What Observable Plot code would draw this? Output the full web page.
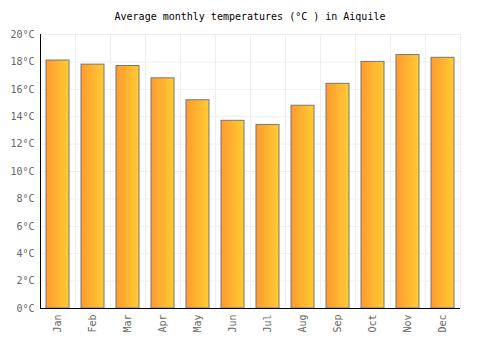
<!DOCTYPE html>
<html>
<head>
<meta charset="utf-8">
<script src="https://cdn.jsdelivr.net/npm/d3@7"></script>
<script src="https://cdn.jsdelivr.net/npm/@observablehq/plot@0.6"></script>
<style>
  body { margin: 0; background: #fff; }
  #title { height: 26px; box-sizing: border-box; padding-top: 11px; font: 10px "DejaVu Sans Mono", monospace; text-align: center; color: #000; line-height: 12px; }
</style>
</head>
<body>
<div id="title">Average monthly temperatures (°C ) in Aiquile</div>
<div id="chart"></div>
<script>
const months = ["Jan","Feb","Mar","Apr","May","Jun","Jul","Aug","Sep","Oct","Nov","Dec"];
const temps = [18.1, 17.8, 17.7, 16.8, 15.2, 13.7, 13.4, 14.8, 16.4, 18.0, 18.5, 18.3];
const yTicks = [0, 2, 4, 6, 8, 10, 12, 14, 16, 18, 20];

const data = months.map((m, i) => ({month: m, temp: temps[i]}));

const W = 500, H = 324, mL = 40, mR = 40, mT = 8, mB = 42;
const step = (W - mL - mR) / months.length;

const plot = Plot.plot({
  width: W, height: H,
  marginLeft: mL, marginRight: mR, marginTop: mT, marginBottom: mB,
  style: {fontFamily: "DejaVu Sans Mono, monospace", fontSize: "10px", background: "#fff"},
  x: {domain: months, paddingInner: 0.33, paddingOuter: 0.165, label: null},
  y: {domain: [0, 20], label: null},
  marks: [
    Plot.ruleY(yTicks, {stroke: "#eeeeee", strokeWidth: 1}),
    Plot.ruleX(months, {x: d => d, dx: -step / 2, stroke: "#eeeeee"}),
    Plot.ruleX([months[months.length - 1]], {x: d => d, dx: step / 2, stroke: "#eeeeee"}),
    Plot.barY(data, {x: "month", y: "temp", fill: "url(#barGrad)", stroke: "#777777", strokeWidth: 1}),
    Plot.ruleX([months[0]], {x: d => d, dx: -step / 2, stroke: "#000"}),
    Plot.ruleY([0], {stroke: "#000"}),
    Plot.axisY(yTicks, {tickSize: 0, tickPadding: 6, tickFormat: d => d + "°C", fill: "#666", label: null}),
    Plot.axisX({tickSize: 0, tickPadding: 6, tickRotate: -90, fill: "#666", label: null})
  ]
});

const svg = d3.select(plot);
const defs = svg.insert("defs", ":first-child");
const g = defs.append("linearGradient").attr("id", "barGrad").attr("x1", "0%").attr("x2", "100%").attr("y1", "0%").attr("y2", "0%");
g.append("stop").attr("offset", "0%").attr("stop-color", "#ff9a2e");
g.append("stop").attr("offset", "100%").attr("stop-color", "#ffcc33");

document.getElementById("chart").appendChild(plot);
</script>
</body>
</html>
